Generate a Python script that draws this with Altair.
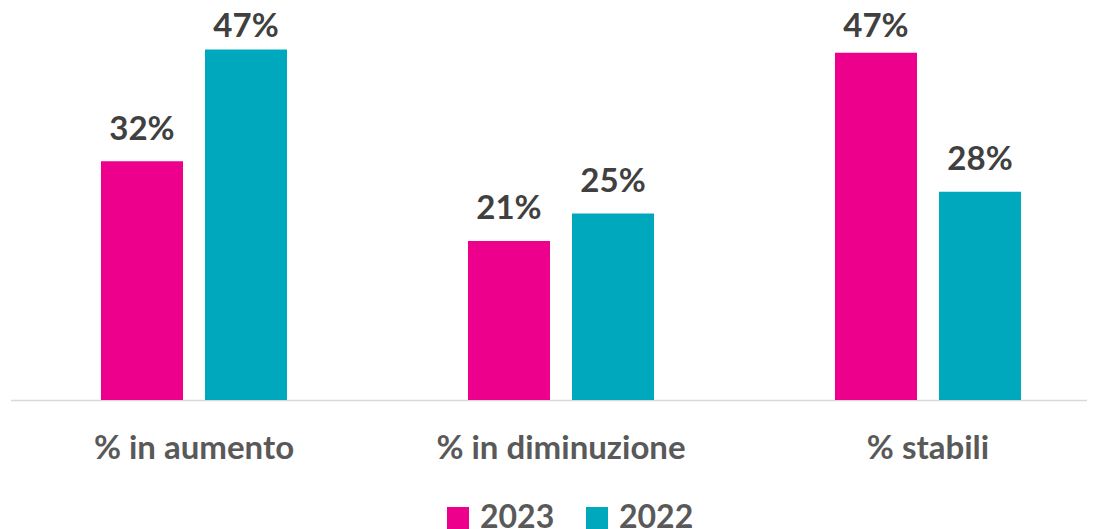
import altair as alt
import pandas as pd

categories = ["% in aumento", "% in diminuzione", "% stabili"]
years = ["2023", "2022"]
values_2023 = [32, 21.3, 46.55]
values_2022 = [47, 25, 27.9]
labels_2023 = ["32%", "21%", "47%"]
labels_2022 = ["47%", "25%", "28%"]
colors = ["#EC008C", "#00A8BD"]

rows = []
for i, c in enumerate(categories):
    rows.append(dict(cat=c, year=years[0], value=values_2023[i], label=labels_2023[i]))
    rows.append(dict(cat=c, year=years[1], value=values_2022[i], label=labels_2022[i]))
df = pd.DataFrame(rows)

x = alt.X(
    "cat:N", sort=categories,
    scale=alt.Scale(range=[0, 1101], paddingInner=0, paddingOuter=0),
    axis=alt.Axis(title=None, labelAngle=0, ticks=False, labelPadding=58, labelLimit=0,
                  labelBaseline="alphabetic", labelFont="Lato", labelFontWeight="bold",
                  labelFontSize=33, labelColor="#595959", domainColor="#D9D9D9",
                  domainWidth=1.5, grid=False),
)
xo = alt.XOffset("year:N", sort=years, scale=alt.Scale(paddingInner=0.2115, paddingOuter=0.87))
yscale = alt.Scale(domain=[0, 50])

bars = alt.Chart(df).mark_bar().encode(
    x=x, xOffset=xo, y=alt.Y("value:Q", scale=yscale, axis=None),
    color=alt.Color(
        "year:N", sort=years, scale=alt.Scale(domain=years, range=colors),
        legend=alt.Legend(title=None, orient="none", legendX=431.5, legendY=475,
                          direction="horizontal", symbolType="square", symbolSize=484,
                          symbolStrokeWidth=0, labelFont="Lato", labelFontWeight="bold",
                          labelFontSize=32, labelColor="#595959", labelOffset=6,
                          columnPadding=26, padding=0, labelLimit=0),
    ),
)

# labels sit above the bar, but are kept inside the plot area (as in the original)
text = alt.Chart(df).transform_calculate(
    label_y="min(datum.value + 2.9, 48.7)"
).mark_text(
    baseline="alphabetic", font="Lato", fontWeight="bold", fontSize=33, color="#404040"
).encode(x=x, xOffset=xo, y=alt.Y("label_y:Q", scale=yscale, axis=None), text="label:N")

chart = alt.layer(bars, text).properties(
    width=1076.5, height=373,
    autosize=alt.AutoSizeParams(type="none"),
    padding={"left": 2.5, "top": 19, "right": 0, "bottom": 129},
).configure_view(stroke=None)

chart.save("out.html", embed_options={"renderer": "svg", "actions": False})
